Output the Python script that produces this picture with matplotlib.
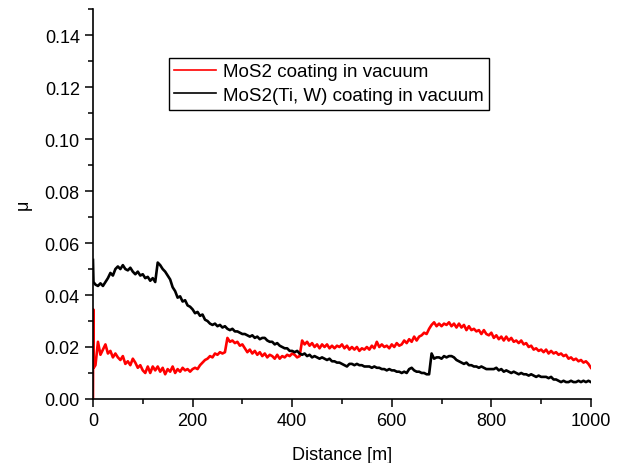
import numpy as np
import matplotlib
matplotlib.use('Agg')
import matplotlib.pyplot as plt
from matplotlib.ticker import MultipleLocator

plt.rcParams['font.family'] = ['Liberation Sans', 'DejaVu Sans']

# friction coefficient (values in units of 1e-3)
# sampled every 5 m, with a few extra points at the very start
dist_grid = list(range(5, 1001, 5))

dist_red = [0, 0.5, 1.5] + dist_grid
mu_red = [0, 34.5, 12,
          13, 22, 17, 19, 21, 17.5, 18.5, 16, 17.5, 16,
          15, 16.5, 13.5, 14.5, 13, 15.5, 14, 12, 13, 11,
          10, 12.5, 10, 12.5, 11, 12.5, 10.5, 12, 9.5, 11.5,
          10.5, 12.5, 10, 11.5, 10.5, 12, 11, 11.5, 10.5, 11.5,
          12, 11.5, 13, 14, 15, 15.5, 16.5, 16, 17.5, 17,
          18, 17.5, 18, 23.5, 22, 22.5, 21.5, 22, 20.5, 21,
          19.5, 18, 19, 17.5, 18.5, 17, 18, 16.5, 17.5, 16,
          17, 16.5, 15.5, 17, 15.5, 16.5, 16, 17, 16.5, 17.5,
          17, 16, 16.5, 22.5, 21, 22, 20.5, 21.5, 20, 21,
          19.5, 21, 20, 21, 19.5, 20.5, 19.5, 20.5, 20, 21,
          19.5, 20.5, 19, 20, 19, 20, 18.5, 19.5, 19, 20,
          19, 20.5, 19.5, 22, 20, 21, 20, 20.5, 19.5, 21,
          20, 21.5, 20.5, 21, 22.5, 21.5, 23, 22, 24, 22.5,
          24, 24.5, 25.5, 25, 27, 28.5, 29.5, 28, 29, 28,
          29, 28.5, 29.5, 28, 29, 27.5, 29, 27.5, 28.5, 26.5,
          28, 26.5, 27, 26, 26.5, 25, 26.5, 25, 24.5, 25.5,
          23.5, 24.5, 23, 24, 22.5, 24, 22.5, 23.5, 22, 22.5,
          21.5, 22.5, 21, 21.5, 20, 20.5, 19, 19.5, 18.5, 19,
          18, 19, 17.5, 18.5, 17.5, 18, 17, 17.5, 16.5, 17,
          15.5, 16, 15, 15.5, 14.5, 15, 14, 14.5, 13.5, 12]

dist_black = [0, 1] + dist_grid
mu_black = [53.5, 45,
            44, 43.5, 44.5, 43.5, 45, 46.5, 48.5, 47.5, 50, 51,
            50, 51.5, 50, 49.5, 50.5, 49, 48, 49, 47.5, 48,
            46.5, 47, 45.5, 46.5, 45, 52.5, 51.5, 50, 49, 47.5,
            46, 43, 41.5, 39, 39.5, 37.5, 38, 36, 35.5, 34.5,
            33, 33.5, 32, 32.5, 30.5, 30, 29, 28.5, 29, 28,
            28.5, 27.5, 28, 27, 26.5, 27, 26, 26, 25.5, 25,
            25, 24.5, 24, 24.5, 23.5, 24, 23, 23.5, 23.5, 22.5,
            22, 22, 21, 21.5, 20.5, 20, 19.5, 19.5, 18.5, 18.5,
            18, 18.5, 17.5, 17, 17.5, 16.5, 17, 16, 16.5, 16,
            15.5, 16, 15.5, 15, 15.5, 14.5, 14.5, 14, 14, 13.5,
            13, 12.5, 13.5, 13.5, 13, 13.5, 13, 13, 12.5, 12.5,
            12.5, 12, 12.5, 12, 12, 11.5, 11.5, 11, 11.5, 11,
            11, 10.5, 10.5, 10, 10.5, 10, 11.5, 12, 11, 10.5,
            10.5, 10, 10, 9.5, 9.5, 17.5, 15.5, 16, 16, 15.5,
            16.5, 16, 16.5, 16.5, 16, 15, 14.5, 14, 13.5, 14,
            13, 13, 12.5, 12.5, 12, 12.5, 12, 11.5, 11.5, 11.5,
            11.5, 12, 11, 11.5, 10.5, 11, 10.5, 10, 10.5, 10,
            9.5, 10, 9.5, 9.5, 9, 9.5, 9, 8.5, 9, 8.5,
            8.5, 8.5, 8, 8.5, 7.5, 7.5, 7, 6.5, 7, 6.5,
            6.5, 7, 6.5, 6.5, 7, 6.5, 7, 6.5, 7, 6.5]

labels = ['MoS2 coating in vacuum', 'MoS2(Ti, W) coating in vacuum']

fig = plt.figure(figsize=(6.24, 4.64), dpi=100)
ax = fig.add_axes([0.149, 0.138, 0.798, 0.840])

ax.plot(dist_red, np.array(mu_red) / 1000, color='#ff0000', lw=1.9, label=labels[0])
ax.plot(dist_black, np.array(mu_black) / 1000, color='#000000', lw=1.9, label=labels[1])

ax.set_xlim(0, 1000)
ax.set_ylim(0, 0.15)
ax.xaxis.set_major_locator(MultipleLocator(200))
ax.xaxis.set_minor_locator(MultipleLocator(100))
ax.yaxis.set_major_locator(MultipleLocator(0.02))
ax.yaxis.set_minor_locator(MultipleLocator(0.01))
ax.yaxis.set_major_formatter(matplotlib.ticker.FormatStrFormatter('%.2f'))

for s in ['top', 'right']:
    ax.spines[s].set_visible(False)
for s in ['left', 'bottom']:
    ax.spines[s].set_linewidth(1.2)
ax.tick_params(which='major', direction='out', length=6, width=1.1, labelsize=13)
ax.tick_params(which='minor', direction='out', length=3.5, width=1.1)

ax.set_xlabel('Distance [m]', fontsize=13, labelpad=12)
ax.set_ylabel('μ', fontsize=13, labelpad=9)

leg = ax.legend(loc='upper left', bbox_to_anchor=(0.152, 0.876), fontsize=13.5,
                frameon=True, fancybox=False, edgecolor='black', framealpha=1,
                handlelength=2.2, handletextpad=0.4, borderpad=0.3, labelspacing=0.35,
                borderaxespad=0)
leg.get_frame().set_linewidth(1.0)
for h in leg.get_lines():
    h.set_linewidth(1.2)

fig.savefig('out.png', dpi=100, facecolor='white')
